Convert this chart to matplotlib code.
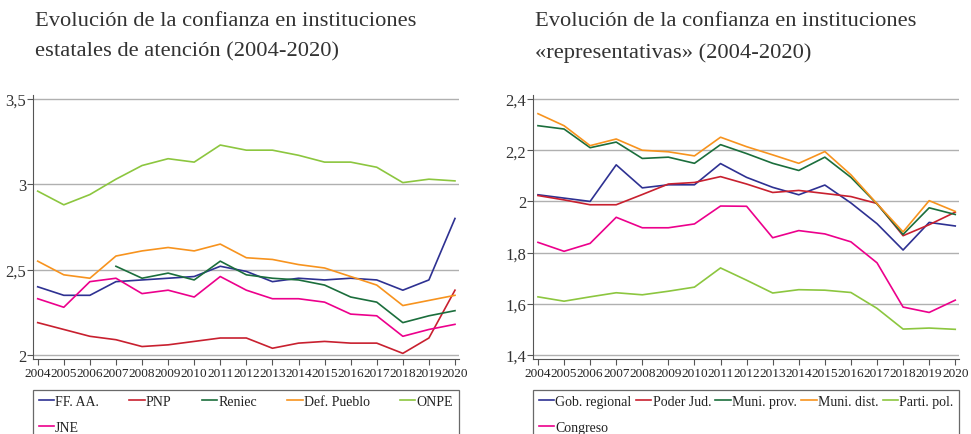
import numpy as np
import matplotlib
matplotlib.use("Agg")
import matplotlib.pyplot as plt

plt.rcParams["font.family"] = ["Liberation Serif", "DejaVu Serif"]

years = list(range(2004, 2021))

# left chart: instituciones estatales de atención
ff_aa = [2.40, 2.35, 2.35, 2.43, 2.44, 2.45, 2.46, 2.52, 2.49, 2.43, 2.45, 2.44, 2.45, 2.44, 2.38, 2.44, 2.80]
pnp = [2.19, 2.15, 2.11, 2.09, 2.05, 2.06, 2.08, 2.10, 2.10, 2.04, 2.07, 2.08, 2.07, 2.07, 2.01, 2.10, 2.38]
reniec = [np.nan, np.nan, np.nan, 2.52, 2.45, 2.48, 2.44, 2.55, 2.47, 2.45, 2.44, 2.41, 2.34, 2.31, 2.19, 2.23, 2.26]
def_pueblo = [2.55, 2.47, 2.45, 2.58, 2.61, 2.63, 2.61, 2.65, 2.57, 2.56, 2.53, 2.51, 2.46, 2.41, 2.29, 2.32, 2.35]
onpe = [2.96, 2.88, 2.94, 3.03, 3.11, 3.15, 3.13, 3.23, 3.20, 3.20, 3.17, 3.13, 3.13, 3.10, 3.01, 3.03, 3.02]
jne = [2.33, 2.28, 2.43, 2.45, 2.36, 2.38, 2.34, 2.46, 2.38, 2.33, 2.33, 2.31, 2.24, 2.23, 2.11, 2.15, 2.18]

# right chart: instituciones «representativas»
gob_regional = [2.026, 2.013, 2.000, 2.143, 2.053, 2.065, 2.065, 2.148, 2.094, 2.055, 2.026, 2.064, 1.994, 1.913, 1.810, 1.918, 1.904]
poder_jud = [2.023, 2.006, 1.987, 1.987, 2.027, 2.068, 2.074, 2.097, 2.068, 2.035, 2.043, 2.031, 2.019, 1.992, 1.866, 1.909, 1.958]
muni_prov = [2.296, 2.283, 2.210, 2.232, 2.168, 2.173, 2.149, 2.222, 2.187, 2.149, 2.121, 2.173, 2.094, 1.990, 1.871, 1.975, 1.949]
muni_dist = [2.343, 2.296, 2.218, 2.244, 2.200, 2.194, 2.178, 2.251, 2.214, 2.182, 2.149, 2.195, 2.104, 1.991, 1.881, 2.003, 1.961]
parti_pol = [1.627, 1.610, 1.627, 1.643, 1.635, 1.649, 1.665, 1.740, 1.692, 1.642, 1.655, 1.653, 1.644, 1.582, 1.501, 1.505, 1.500]
congreso = [1.840, 1.805, 1.836, 1.938, 1.897, 1.897, 1.912, 1.982, 1.981, 1.858, 1.886, 1.873, 1.842, 1.760, 1.587, 1.566, 1.614]

colors = ["#2e3192", "#c8202f", "#1b6e3c", "#f7931e", "#8cc63f", "#ec008c"]

left_series = [("FF. AA.", ff_aa), ("PNP", pnp), ("Reniec", reniec),
               ("Def. Pueblo", def_pueblo), ("ONPE", onpe), ("JNE", jne)]
right_series = [("Gob. regional", gob_regional), ("Poder Jud.", poder_jud),
                ("Muni. prov.", muni_prov), ("Muni. dist.", muni_dist),
                ("Parti. pol.", parti_pol), ("Congreso", congreso)]

left_title = "Evolución de la confianza en instituciones\nestatales de atención (2004-2020)"
right_title = "Evolución de la confianza en instituciones\n«representativas» (2004-2020)"

left_ticks = [2, 2.5, 3, 3.5]
left_ticklabels = ["2", "2,5", "3", "3,5"]
right_ticks = [1.4, 1.6, 1.8, 2.0, 2.2, 2.4]
right_ticklabels = ["1,4", "1,6", "1,8", "2", "2,2", "2,4"]

fig = plt.figure(figsize=(9.71, 4.35), dpi=100)

panels = [
    (0.0340, left_series, left_title, left_ticks, left_ticklabels, (1.977, 3.523)),
    (0.5492, right_series, right_title, right_ticks, right_ticklabels, (1.384, 2.416)),
]

for x0, series, title, ticks, ticklabels, ylim in panels:
    ax = fig.add_axes([x0, 0.1724, 0.4386, 0.6069])
    lines = []
    for (name, vals), c in zip(series, colors):
        ln, = ax.plot(years, vals, color=c, lw=1.2, label=name)
        lines.append(ln)
    ax.set_xlim(2003.82, 2020.15)
    ax.set_ylim(*ylim)
    ax.set_xticks(years)
    ax.set_xticklabels([str(y) for y in years], fontsize=9.5, color="#222222")
    ax.set_yticks(ticks)
    ax.set_yticklabels(ticklabels, fontsize=12, color="#333333")
    ax.grid(axis="y", color="#b0b0b0", lw=1)
    ax.set_axisbelow(True)
    for s in ["top", "right"]:
        ax.spines[s].set_visible(False)
    for s in ["left", "bottom"]:
        ax.spines[s].set_color("#555555")
        ax.spines[s].set_linewidth(0.8)
    ax.tick_params(axis="both", length=4, width=0.8, color="#555555", pad=2)
    ax.tick_params(axis="y", pad=1)

    fig.text(x0 + 0.002, 0.972, title, ha="left", va="top", fontsize=16.2,
             color="#333333", linespacing=1.8)

    # legend fills column by column: put the sixth entry under the first
    order = [0, 5, 1, 2, 3, 4]
    leg = fig.legend(handles=[lines[i] for i in order], loc="upper left",
                     bbox_to_anchor=(x0, 0.0, 0.4386, 0.1018), mode="expand",
                     ncol=5, fontsize=10, frameon=True, fancybox=False,
                     handlelength=1.1, handletextpad=0.1, columnspacing=1.0,
                     labelspacing=0.9, borderpad=0.4, borderaxespad=0)
    leg.get_frame().set_edgecolor("#444444")
    leg.get_frame().set_linewidth(0.9)
    for t in leg.get_texts():
        t.set_color("#222222")

fig.savefig("out.png", dpi=100)
